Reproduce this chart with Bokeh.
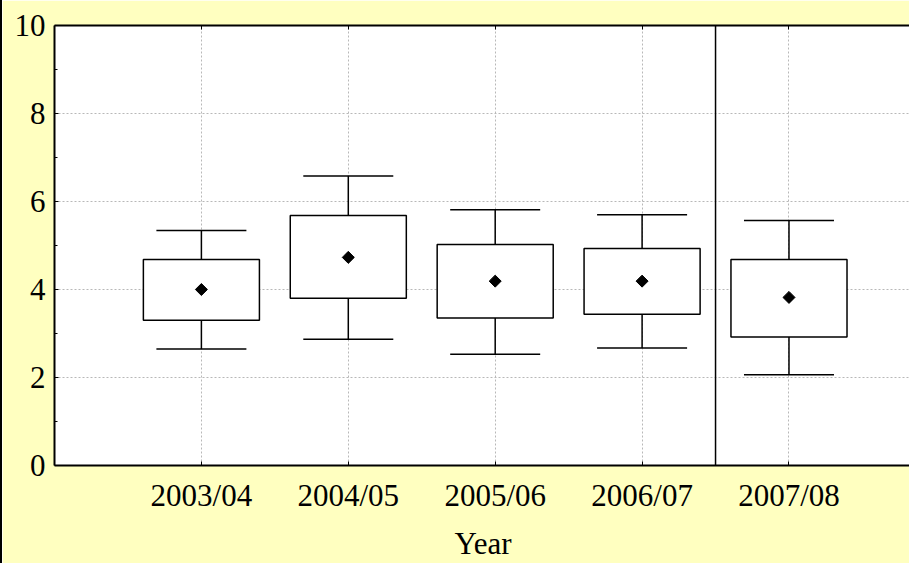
import math
from bokeh.plotting import figure
from bokeh.models import (Range1d, LinearAxis, FixedTicker, Span, Whisker,
                          TeeHead, ColumnDataSource, CustomLabelingPolicy)
from bokeh.embed import file_html
from bokeh.resources import INLINE

years = ["2003/04", "2004/05", "2005/06", "2006/07", "2007/08"]
positions = [1, 2, 3, 4, 5]
whisker_low = [2.65, 2.87, 2.53, 2.67, 2.06]
box_low = [3.30, 3.80, 3.35, 3.44, 2.92]
means = [4.00, 4.73, 4.19, 4.19, 3.82]
box_high = [4.68, 5.68, 5.02, 4.93, 4.68]
whisker_high = [5.34, 6.58, 5.81, 5.70, 5.57]
y_ticks = [0, 2, 4, 6, 8, 10]
y_minor = [1, 3, 5, 7, 9]
divider = 4.5

FONT = "Liberation Serif"
BG = "#FFFFC0"

src = ColumnDataSource(dict(x=positions, wl=whisker_low, bl=box_low, m=means,
                            bh=box_high, wh=whisker_high))

p = figure(width=909, height=563, output_backend="svg", toolbar_location=None,
           x_range=Range1d(0, 5.834), y_range=Range1d(0, 10),
           min_border_left=52, min_border_right=0, min_border_top=25,
           min_border_bottom=96, x_axis_label="Year")
p.background_fill_color = "white"
p.border_fill_color = BG
p.outline_line_color = None

# axes
p.xaxis.ticker = FixedTicker(ticks=positions)
p.xaxis.major_label_overrides = {pos: lab for pos, lab in zip(positions, years)}
p.yaxis.ticker = FixedTicker(ticks=y_ticks, minor_ticks=y_minor)
for ax in (p.xaxis[0], p.yaxis[0]):
    ax.axis_line_color = "black"
    ax.axis_line_width = 2
    ax.major_tick_in = 4
    ax.major_tick_out = 0
    ax.minor_tick_in = 3
    ax.minor_tick_out = 0
    ax.major_tick_line_color = "black"
    ax.minor_tick_line_color = "black"
    ax.major_label_text_font = FONT
    ax.major_label_text_font_size = "31px"
    ax.major_label_text_color = "black"
    ax.axis_label_text_font = FONT
    ax.axis_label_text_font_size = "31px"
    ax.axis_label_text_font_style = "normal"
    ax.axis_label_text_color = "black"
p.xaxis.major_label_standoff = 12
p.xaxis.axis_label_standoff = 10
p.xaxis.minor_tick_line_color = None
p.yaxis.major_label_standoff = 9

no_labels = CustomLabelingPolicy(code="""
if (typeof indices.clear === 'function') { indices.clear() }
else { for (const i of Array.from(indices)) { indices.unset(i) } }
return indices
""")
top = LinearAxis(ticker=FixedTicker(ticks=positions), major_label_policy=no_labels,
                 axis_line_width=2, major_tick_in=4, major_tick_out=0,
                 minor_tick_line_color=None, major_label_standoff=0)
p.add_layout(top, "above")

# grid
p.xgrid.ticker = FixedTicker(ticks=positions)
for g in (p.xgrid[0], p.ygrid[0]):
    g.grid_line_color = "#b8b8b8"
    g.grid_line_dash = "2 2"
    g.grid_line_width = 1

# divider
p.add_layout(Span(location=divider, dimension="height", line_color="black",
                  line_width=1.5))

# whiskers
p.add_layout(Whisker(source=src, base="x", lower="wl", upper="bl",
                     lower_head=TeeHead(size=90, line_width=1.5), upper_head=None,
                     line_width=1.5, line_color="black", level="glyph"))
p.add_layout(Whisker(source=src, base="x", lower="bh", upper="wh",
                     upper_head=TeeHead(size=90, line_width=1.5), lower_head=None,
                     line_width=1.5, line_color="black", level="glyph"))

# boxes
p.vbar(x="x", width=0.79, bottom="bl", top="bh", source=src,
       fill_color="white", line_color="black", line_width=1.5)

# means
p.scatter(x="x", y="m", source=src, marker="square", size=8.5,
          angle=math.pi / 4, fill_color="black", line_color="black")

p.styles = {"border-left": "2px solid black"}

open("out.html", "w").write(file_html(p, INLINE))
